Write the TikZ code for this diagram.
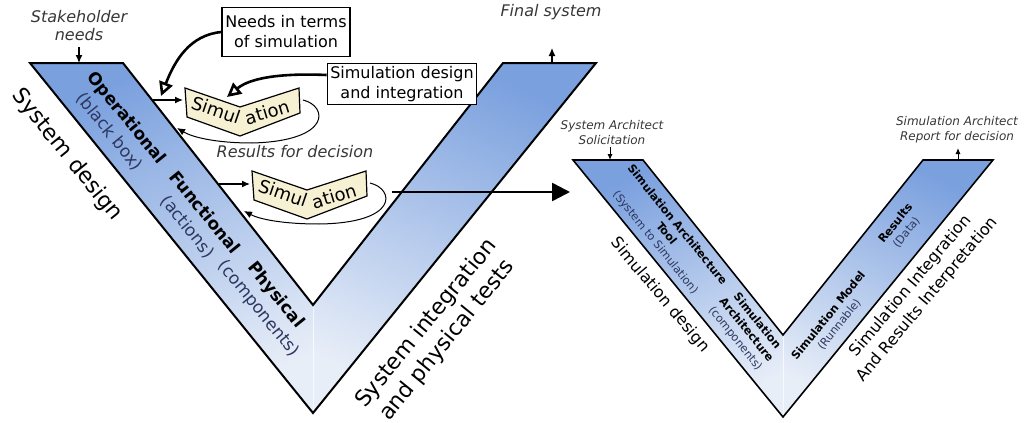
\documentclass[tikz,border=0pt]{standalone}
\usepackage{fontspec}
\setmainfont{DejaVu Sans}
\usetikzlibrary{arrows.meta,calc}
\definecolor{vfonce}{RGB}{122,160,222}
\definecolor{vclair}{RGB}{232,238,248}
\definecolor{simfond}{RGB}{246,241,211}
\definecolor{parenth}{RGB}{45,55,95}
\definecolor{gristexte}{RGB}{55,55,55}

\begin{document}
\begin{tikzpicture}[x=0.5pt,y=-0.5pt,
	bras/.style={draw=black,line width=1pt,line join=miter},
	chevron/.style={draw=black,line width=0.6pt,fill=simfond},
	simtxt/.style={inner sep=0pt,font=\fontsize{9}{9}\selectfont},
	boite/.style={draw=black,line width=0.6pt,fill=white,align=center,inner sep=1.5pt,font=\fontsize{8}{10}\selectfont},
	remarque/.style={align=center,text=gristexte,font=\fontsize{8}{9}\selectfont\itshape},
	etiq/.style={align=center,font=\fontsize{8.5}{11}\selectfont},
	petite/.style={align=center,font=\fontsize{5.6}{7}\selectfont},
	fleche/.style={-{Latex[length=4pt,width=3.5pt]},line width=0.6pt},
	creuse/.style={-{Triangle[open,length=7pt,width=7pt]},line width=1.3pt},
	boucle/.style={-{Latex[length=4pt,width=3.5pt]},line width=0.5pt}]
		\useasboundingbox (0,0) rectangle (1025,423);
		% Cycle en V systeme
		\fill[top color=vfonce,bottom color=vclair,shading angle=25] (30,63) -- (123,63) -- (313,305) -- (313,413) -- cycle;
		\fill[top color=vfonce,bottom color=vclair,shading angle=-25] (313,305) -- (503,63) -- (596,63) -- (313,413) -- cycle;
		\draw[white,line width=0.4pt,opacity=0.7] (313,305) -- (313,413);
		\draw[bras] (30,63) -- (123,63) -- (313,305) -- (503,63) -- (596,63) -- (313,413) -- cycle;
		\node[etiq,rotate=-51] (oper) at (118,125) {\textbf{Operational}\\\textcolor{parenth}{(black box)}};
		\node[etiq,rotate=-51] (fonc) at (196,220) {\textbf{Functional}\\\textcolor{parenth}{(actions)}};
		\node[etiq,rotate=-51] (phys) at (267,302) {\textbf{Physical}\\\textcolor{parenth}{(components)}};
		\node[rotate=-51,font=\fontsize{11}{13}\selectfont] (concep) at (67,155) {System design};
		\node[rotate=51,align=center,font=\fontsize{11}{13.5}\selectfont] (integ) at (437,332) {System integration\\and physical tests};
		% Entree / sortie
		\node[remarque] (besoin) at (79,26) {Stakeholder\\needs};
		\coordinate (besoinF) at (79,47);
		\coordinate (besoinV) at (79,63);
		\draw[fleche] (besoinF) -- (besoinV);
		\node[remarque] (final) at (551,12) {Final system};
		\coordinate (finalV) at (552,63);
		\coordinate (finalF) at (552,48);
		\draw[fleche] (finalV) -- (finalF);
		% Boites
		\node[boite,minimum width=64pt,minimum height=24.5pt] (besoinsim) at (286,32) {Needs in terms\\of simulation};
		\node[boite,minimum width=74.5pt,minimum height=19pt] (simdes) at (402,84) {Simulation design\\and integration};
		% Simulations
		\coordinate (simA) at (185,88);
		\draw[chevron] (simA) -- ++(55,19) -- ++(59,-19) -- ++(1,25) -- ++(-60,23) -- ++(-53,-19) -- cycle;
		\node[simtxt,rotate=-19] (simAg) at (216,110) {Simul};
		\node[simtxt,rotate=17] (simAd) at (267,112) {ation};
		\coordinate (simB) at (252,171);
		\draw[chevron] (simB) -- ++(55,19) -- ++(59,-19) -- ++(1,25) -- ++(-60,23) -- ++(-53,-19) -- cycle;
		\node[simtxt,rotate=-19] (simBg) at (283,193) {Simul};
		\node[simtxt,rotate=17] (simBd) at (334,196) {ation};
		% Flèches
		\coordinate (entA) at (153,100);
		\coordinate (simAe) at (183,100);
		\draw[fleche] (entA) -- (simAe);
		\coordinate (entB) at (219,184);
		\coordinate (simBe) at (250,184);
		\draw[fleche] (entB) -- (simBe);
		\coordinate (bclA) at (303,100);
		\coordinate (retA) at (177,128);
		\draw[boucle] (bclA) .. controls (328,106) and (332,141) .. (252,143) .. controls (215,143) and (192,137) .. (retA);
		\coordinate (bclB) at (370,183);
		\coordinate (retB) at (244,211);
		\draw[boucle] (bclB) .. controls (395,189) and (399,223) .. (319,224) .. controls (282,224) and (259,219) .. (retB);
		\node[remarque] (resdec) at (295,152) {Results for decision};
		\coordinate (pointeA) at (161,96);
		\coordinate (pointeB) at (227,97);
		\draw[creuse] (besoinsim.west) .. controls (190,35) and (175,60) .. (pointeA);
		\draw[creuse] ($(simdes.west)+(0,-9)$) .. controls (280,73) and (250,78) .. (pointeB);
		% Cycle en V simulation
		\fill[top color=vfonce,bottom color=vclair,shading angle=25] (573,160) -- (643,160) -- (783,335) -- (783,417) -- cycle;
		\fill[top color=vfonce,bottom color=vclair,shading angle=-25] (783,335) -- (923,160) -- (993,160) -- (783,417) -- cycle;
		\draw[white,line width=0.4pt,opacity=0.7] (783,335) -- (783,417);
		\draw[bras,line width=0.8pt] (573,160) -- (643,160) -- (783,335) -- (923,160) -- (993,160) -- (783,417) -- cycle;
		\coordinate (depart) at (392,192);
		\coordinate (arrivee) at (570,192);
		\draw[-{Triangle[length=9pt,width=9pt]},line width=1.3pt] (depart) -- (arrivee);
		\node[petite,rotate=-51] (outil) at (666,234) {\textbf{Simulation Architecture}\\\textbf{Tool}\\\textcolor{parenth}{(System to Simulation)}};
		\node[petite,rotate=-51] (archi) at (746,330) {\textbf{Simulation}\\\textbf{Architecture}\\\textcolor{parenth}{(components)}};
		\node[petite,rotate=51] (modele) at (834,320) {\textbf{Simulation Model}\\\textcolor{parenth}{(Runnable)}};
		\node[petite,rotate=51] (result) at (901,228) {\textbf{Results}\\\textcolor{parenth}{(Data)}};
		\node[rotate=-50,font=\fontsize{8}{10}\selectfont] (simconcep) at (660,295) {Simulation design};
		\node[rotate=50,align=center,font=\fontsize{8}{10.5}\selectfont] (siminteg) at (919,293) {Simulation Integration\\And Results Interpretation};
		\node[remarque,font=\fontsize{6}{7.5}\selectfont\itshape] (solli) at (612,133) {System Architect\\Solicitation};
		\coordinate (solliF) at (610,147);
		\coordinate (solliV) at (610,160);
		\draw[-{Latex[length=3pt,width=2.5pt]},line width=0.5pt] (solliF) -- (solliV);
		\node[remarque,font=\fontsize{6}{7.5}\selectfont\itshape] (rapport) at (957,130) {Simulation Architect\\Report for decision};
		\coordinate (rappV) at (958,160);
		\coordinate (rappF) at (958,148);
		\draw[-{Latex[length=3pt,width=2.5pt]},line width=0.5pt] (rappV) -- (rappF);
\end{tikzpicture}
\end{document}
